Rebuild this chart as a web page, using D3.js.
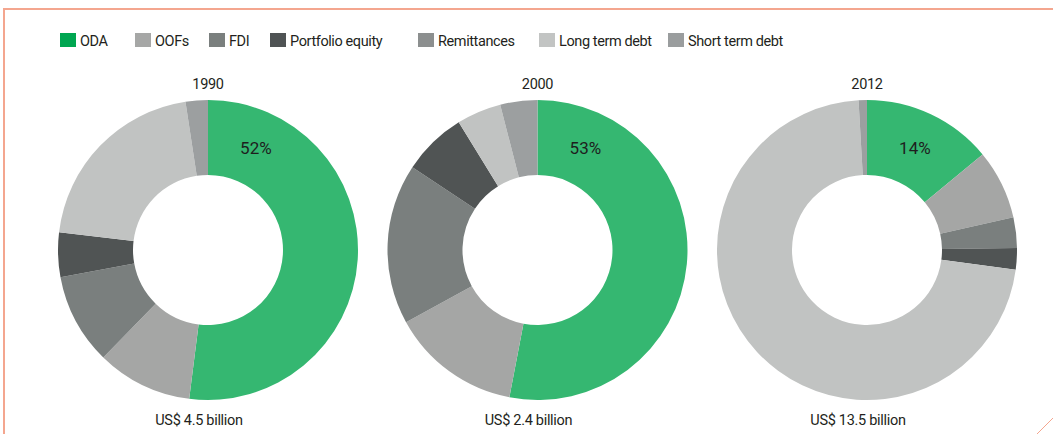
<!DOCTYPE html>
<html lang="en">
<head>
<meta charset="UTF-8">
<title>Resource flows donuts</title>
<script src="https://cdn.jsdelivr.net/npm/d3@7"></script>
<style>
  body { margin: 0; background: #fff; }
  svg { display: block; font-family: Roboto, "DejaVu Sans", sans-serif; }
</style>
</head>
<body>
<div class="container"></div>
<script>
// categories and shares (%)
const categories = ["ODA", "OOFs", "FDI", "Portfolio equity", "Remittances", "Long term debt", "Short term debt"];
const years = ["1990", "2000", "2012"];
const totals = ["US$ 4.5 billion", "US$ 2.4 billion", "US$ 13.5 billion"];
const shares1990 = [52, 10.3, 9.8, 4.8, 0, 20.7, 2.4];
const shares2000 = [53, 14.0, 17.3, 6.9, 0, 4.8, 4.0];
const shares2012 = [14, 7.5, 3.3, 2.3, 0, 72.0, 0.9];
const odaLabels = ["52%", "53%", "14%"];

const legendColors = ["#00a651", "#a6a7a6", "#7a7f7e", "#4f5354", "#8c8f8f", "#c2c4c3", "#9a9d9e"];
const sliceColors = ["#35b771", "#a5a6a5", "#7a7f7e", "#505454", "#8c8f8f", "#c1c3c2", "#9c9fa0"];

const width = 1053, height = 434;
const outerR = 150, innerR = 75;
const cy = 250;

const svg = d3.create("svg")
  .attr("width", width)
  .attr("height", height)
  .attr("viewBox", [0, 0, width, height]);

// salmon frame
const frame = "#f4a68f";
svg.append("path")
  .attr("d", `M4,${height} V9 H${width}`)
  .attr("fill", "none")
  .attr("stroke", frame)
  .attr("stroke-width", 2);
svg.append("line")
  .attr("x1", width).attr("y1", 418)
  .attr("x2", 1037).attr("y2", height)
  .attr("stroke", frame)
  .attr("stroke-width", 1);

// legend
const legendX = [60, 135, 209, 270, 418, 539, 668];
const legend = svg.append("g")
  .selectAll("g")
  .data(categories)
  .join("g")
    .attr("transform", (d, i) => `translate(${legendX[i]},33)`);
legend.append("rect")
  .attr("width", 16)
  .attr("height", 14)
  .attr("fill", (d, i) => legendColors[i]);
legend.append("text")
  .attr("x", 20)
  .attr("y", 13)
  .attr("font-size", 14.5)
  .attr("letter-spacing", -0.4)
  .attr("fill", "#231f20")
  .text(d => d);

// donuts
const xPos = d3.scalePoint()
  .domain(years)
  .range([208, 867]);

const pie = d3.pie().sort(null).value(d => d);
const arc = d3.arc().innerRadius(innerR).outerRadius(outerR);
const labelArc = d3.arc().innerRadius(innerR).outerRadius(outerR);

const allShares = [shares1990, shares2000, shares2012];

years.forEach((yr, k) => {
  const cx = xPos(yr);
  const g = svg.append("g").attr("transform", `translate(${cx},${cy})`);

  g.selectAll("path")
    .data(pie(allShares[k]))
    .join("path")
      .attr("d", arc)
      .attr("fill", (d, i) => sliceColors[i]);

  // ODA label placed in the upper part of the green slice
  const c = labelArc.centroid({ startAngle: 0, endAngle: Math.PI * 2 * 0.14 });
  g.append("text")
    .attr("x", c[0])
    .attr("y", c[1] + 6)
    .attr("text-anchor", "middle")
    .attr("font-size", 17)
    .attr("fill", "#1e1e1e")
    .text(odaLabels[k]);

  svg.append("text")
    .attr("x", cx)
    .attr("y", 89)
    .attr("text-anchor", "middle")
    .attr("font-size", 14.5)
    .attr("letter-spacing", -0.3)
    .attr("fill", "#231f20")
    .text(yr);

  svg.append("text")
    .attr("x", cx - 9)
    .attr("y", 425)
    .attr("text-anchor", "middle")
    .attr("font-size", 14.5)
    .attr("letter-spacing", -0.3)
    .attr("fill", "#231f20")
    .text(totals[k]);
});

document.querySelector(".container").appendChild(svg.node());
</script>
</body>
</html>
